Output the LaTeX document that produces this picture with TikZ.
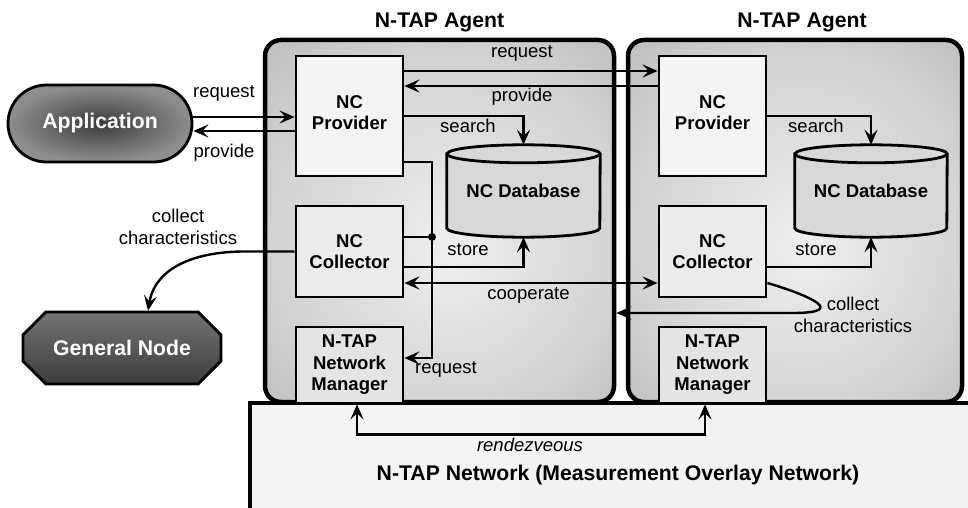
\documentclass[tikz,border=0pt]{standalone}
\usepackage{fontspec}
\setmainfont{Liberation Sans}
\usetikzlibrary{arrows.meta,shapes.misc,calc}

\definecolor{agentin}{HTML}{EFEFEF}
\definecolor{agentmid}{HTML}{D2D2D2}
\definecolor{agentout}{HTML}{BCBCBC}
\definecolor{appin}{HTML}{3A3A3A}
\definecolor{appout}{HTML}{8E8E8E}
\definecolor{gentop}{HTML}{747474}
\definecolor{genbot}{HTML}{3C3C3C}
\definecolor{provfill}{HTML}{F4F4F4}
\definecolor{colfill}{HTML}{EBEBEB}
\definecolor{nmfill}{HTML}{E4E4E4}
\definecolor{dbfill}{HTML}{D8D8D8}
\definecolor{netleft}{HTML}{F5F5F5}
\definecolor{netmid}{HTML}{E5E5E5}
\definecolor{netright}{HTML}{F1F1F1}

\pgfdeclareradialshading{agentshade}{\pgfpoint{2bp}{-4bp}}{color(0bp)=(agentin); color(25bp)=(agentmid); color(38bp)=(agentout); color(50bp)=(agentout)}
\pgfdeclareradialshading{appshade}{\pgfpoint{0bp}{0bp}}{color(0bp)=(appin); color(25bp)=(appout); color(50bp)=(appout)}

\newcommand\lblfont{\fontsize{18.5}{21.5}\selectfont}
\newcommand\ttlfont{\fontsize{21.2}{25}\selectfont\bfseries}

% cylinder outline around a named rectangular area: #1 name, #2 half width
\newcommand\dbcyl[2]{%
  \filldraw[line width=2.8pt, fill=dbfill]
    ($(#1.north west)+(0,-9)$) -- ($(#1.south west)+(0,9)$)
    arc[start angle=180, end angle=360, x radius=#2, y radius=9]
    -- ($(#1.north east)+(0,-9)$)
    arc[start angle=0, end angle=180, x radius=#2, y radius=9] -- cycle;
  \draw[line width=2.8pt] ($(#1.north west)+(0,-9)$)
    arc[start angle=180, end angle=360, x radius=#2, y radius=9];
}

\begin{document}
\begin{tikzpicture}[x=1pt, y=1pt,
  >={Stealth[length=15pt,width=13pt,inset=6pt]},
  conn/.style={line width=2.4pt},
  lbl/.style={font=\lblfont, inner sep=0pt, text height=13pt, text depth=4pt},
  lbltwo/.style={font=\lblfont, inner sep=0pt, align=center},
  ttl/.style={font=\ttlfont, inner sep=0pt},
  agent/.style={draw, line width=4.5pt, rounded corners=16pt, shade, shading=agentshade,
    inner sep=0pt, minimum height=362pt},
  comp/.style={draw, line width=2.8pt, minimum width=107pt, inner sep=0pt, align=center,
    font=\lblfont\bfseries},
  comptext/.style={inner sep=0pt, align=center, font=\lblfont\bfseries},
  dbarea/.style={inner sep=0pt, minimum width=#1, minimum height=92pt},
  dbtext/.style={font=\lblfont\bfseries, inner sep=0pt}
]
\useasboundingbox (0,0) rectangle (968,507);

% overlay network base
\shade[left color=netleft, middle color=netmid, right color=netright] (250,-8) rectangle (976,104);
\draw[line width=4pt] (250,-8) -- (250,104) -- (976,104);
\node[ttl] (netlbl) at (618,32) {N-TAP Network (Measurement Overlay Network)};
\node[lbl, font=\lblfont\itshape] (rzlbl) at (530,60) {rendezveous};

% agents
\node[agent, minimum width=349pt] (agL) at (439.5,286) {};
\node[agent, minimum width=334pt] (agR) at (795,286) {};
\node[ttl] (tL) at (439.5,485) {N-TAP Agent};
\node[ttl] (tR) at (802,485) {N-TAP Agent};

% components
\node[comp, fill=provfill, minimum height=120pt] (provL) at (349.5,391) {};
\node[comptext] (provLt) at ([yshift=3.5pt]provL.center) {NC\\Provider};
\node[comp, fill=provfill, minimum height=120pt] (provR) at (712.5,391) {};
\node[comptext] (provRt) at ([yshift=3.5pt]provR.center) {NC\\Provider};
\node[comp, fill=colfill, minimum height=91pt] (colL) at (349.5,255.5) {NC\\Collector};
\node[comp, fill=colfill, minimum height=91pt] (colR) at (712.5,255.5) {NC\\Collector};
\node[comp, fill=nmfill, minimum height=76pt] (nmL) at (349.5,142) {N-TAP\\Network\\Manager};
\node[comp, fill=nmfill, minimum height=76pt] (nmR) at (712.5,142) {N-TAP\\Network\\Manager};

\node[dbarea=153pt] (dbL) at (523.5,316) {};
\dbcyl{dbL}{76.5}
\node[dbtext] (dbLt) at (dbL) {NC Database};
\node[dbarea=152pt] (dbR) at (871,316) {};
\dbcyl{dbR}{76}
\node[dbtext] (dbRt) at (dbR) {NC Database};

% outside nodes
\node[rounded rectangle, draw, line width=2.8pt, minimum width=184pt, minimum height=77pt,
  shade, shading=appshade, text=white, font=\ttlfont, inner sep=0pt] (app) at (100,383.5) {Application};
\node[chamfered rectangle, chamfered rectangle xsep=16pt, chamfered rectangle ysep=15pt,
  draw, line width=2.8pt, minimum width=198pt, minimum height=72pt,
  top color=gentop, bottom color=genbot, text=white, font=\ttlfont, inner sep=0pt] (gen) at (122,159) {General Node};

% application <-> provider
\draw[conn,->] ([yshift=6.5pt]app.east) -- ([yshift=-1pt]provL.west);
\draw[conn,->] ([yshift=-15pt]provL.west) -- ([yshift=-7.5pt]app.east);
\node[lbl] (l1) at (224,414) {request};
\node[lbl] (l2) at (224,354) {provide};

% provider <-> provider
\draw[conn,->] ([yshift=45pt]provL.east) -- ([yshift=45pt]provR.west);
\draw[conn,->] ([yshift=30pt]provR.west) -- ([yshift=30pt]provL.east);
\node[lbl] (l3) at (522,454) {request};
\node[lbl] (l4) at (522,410) {provide};

% search
\draw[conn,->] (provL.east) -| (dbL.north);
\draw[conn,->] (provR.east) -| (dbR.north);
\node[lbl] (l5) at (468,379) {search};
\node[lbl] (l6) at (816,379) {search};

% store
\draw[conn,->] ([yshift=-15.5pt]colL.east) -| (dbL.south);
\draw[conn,->] ([yshift=-15.5pt]colR.east) -| (dbR.south);
\node[lbl] (l7) at (468,256) {store};
\node[lbl] (l8) at (816,256) {store};

% provider / collector to network manager
\coordinate (jn) at (432,270);
\draw[conn,->] ([yshift=-46pt]provL.east) -| (jn) |- ([yshift=7pt]nmL.east);
\draw[conn] ([yshift=14.5pt]colL.east) -- (jn);
\fill (jn) circle (4pt);
\node[lbl] (l9) at (446,138) {request};

% cooperate
\draw[conn,<->] ([yshift=-31.5pt]colL.east) -- ([yshift=-31.5pt]colR.west);
\node[lbl] (l10) at (528.5,212) {cooperate};

% collect characteristics
\draw[conn,->] (colL.west) -- (245,255.5) .. controls (192,255.5) and (155,238) .. ([xshift=26pt]gen.north);
\node[lbltwo] (l11) at (178,280) {collect\\characteristics};
\draw[conn,->] ([yshift=-31.5pt]colR.east) .. controls (808,212) and (850,194) .. (792,194)
  -- ([yshift=-92pt]agL.east);
\node[lbltwo] (l12) at (853,192) {collect\\characteristics};

% rendezvous
\draw[conn,<->] ([xshift=7.5pt]nmL.south) -- ++(0,-30) -| ([xshift=-7.5pt]nmR.south);
\end{tikzpicture}
\end{document}
